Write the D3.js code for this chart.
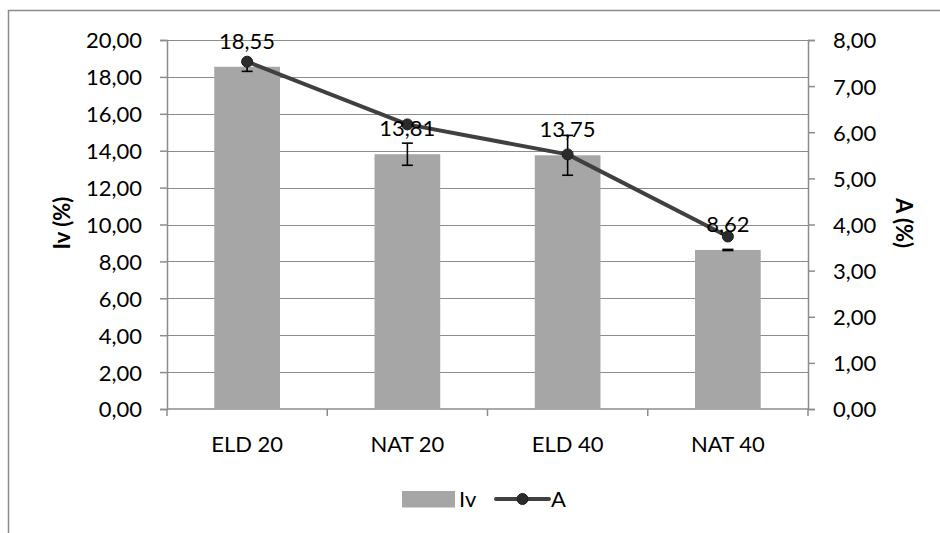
<!DOCTYPE html>
<html>
<head>
<meta charset="utf-8">
<script src="https://cdn.jsdelivr.net/npm/d3@7/dist/d3.min.js"></script>
<style>
  html, body { margin: 0; padding: 0; background: #ffffff; }
  svg { display: block; }
  text { font-family: Lato, "Open Sans", sans-serif; fill: #000; }
</style>
</head>
<body>
<script>
// Sample categories and measured series
const categories = ["ELD 20", "NAT 20", "ELD 40", "NAT 40"];
const ivValues = [18.55, 13.81, 13.75, 8.62];   // bars, left axis
const ivErrors = [0.25, 0.60, 1.08, 0.03];      // ± error on bars
const aValues = [7.53, 6.17, 5.52, 3.74];       // line, right axis
const leftTicks = [0, 2, 4, 6, 8, 10, 12, 14, 16, 18, 20];
const rightTicks = [0, 1, 2, 3, 4, 5, 6, 7, 8];
const seriesNames = ["Iv", "A"];

const W = 940, H = 533;
const plot = { left: 167, right: 808, top: 40, bottom: 409 };

const comma = d3.formatLocale({ decimal: ",", thousands: ".", grouping: [3], currency: ["", ""] });
const fmt2 = comma.format(".2f");

const svg = d3.select("body").append("svg").attr("width", W).attr("height", H);

// Chart frame
svg.append("rect")
  .attr("x", 8.5).attr("y", 10.5)
  .attr("width", 1000).attr("height", 600)
  .attr("fill", "none").attr("stroke", "#8c8c8c").attr("stroke-width", 1.5);

const x = d3.scaleBand().domain(categories)
  .range([plot.left, plot.right]).paddingInner(0.59).paddingOuter(0.295);
const xTicks = d3.scaleBand().domain(categories).range([plot.left, plot.right]);
const yL = d3.scaleLinear().domain([0, 20]).range([plot.bottom, plot.top]);
const yR = d3.scaleLinear().domain([0, 8]).range([plot.bottom, plot.top]);

const gridColor = "#8c8c8c";

// Horizontal gridlines
svg.append("g").selectAll("line").data(leftTicks.slice(1)).join("line")
  .attr("x1", plot.left).attr("x2", plot.right)
  .attr("y1", d => Math.round(yL(d)) + 0.5).attr("y2", d => Math.round(yL(d)) + 0.5)
  .attr("stroke", gridColor).attr("stroke-width", 1.2);

// Left axis
const gLeft = svg.append("g").attr("transform", `translate(${plot.left},0)`)
  .call(d3.axisLeft(yL).tickValues(leftTicks).tickFormat(fmt2).tickSize(7).tickPadding(18));
// Right axis
const gRight = svg.append("g").attr("transform", `translate(${plot.right},0)`)
  .call(d3.axisRight(yR).tickValues(rightTicks).tickFormat(fmt2).tickSize(7).tickPadding(18));
[gLeft, gRight].forEach(g => {
  g.select(".domain").attr("stroke", gridColor).attr("stroke-width", 1.5);
  g.selectAll(".tick line").attr("stroke", gridColor).attr("stroke-width", 1.5);
  g.selectAll(".tick text").attr("font-size", 22).attr("font-family", "Lato, sans-serif")
    .attr("fill", "#000").attr("dy", "0.36em");
});

// Bottom axis with ticks between categories
const gBottom = svg.append("g").attr("transform", `translate(0,${plot.bottom})`);
gBottom.append("line").attr("x1", plot.left).attr("x2", plot.right)
  .attr("stroke", gridColor).attr("stroke-width", 1.5);
const boundaries = categories.map(c => xTicks(c)).concat([plot.right]);
gBottom.selectAll("line.tk").data(boundaries).join("line").attr("class", "tk")
  .attr("x1", d => d).attr("x2", d => d).attr("y1", 0).attr("y2", 7)
  .attr("stroke", gridColor).attr("stroke-width", 1.5);
gBottom.selectAll("text").data(categories).join("text")
  .attr("x", d => xTicks(d) + xTicks.bandwidth() / 2)
  .attr("y", 43)
  .attr("text-anchor", "middle").attr("font-size", 22)
  .text(d => d);

// Bars
svg.append("g").selectAll("rect").data(categories).join("rect")
  .attr("x", d => x(d)).attr("width", x.bandwidth())
  .attr("y", (d, i) => yL(ivValues[i]))
  .attr("height", (d, i) => plot.bottom - yL(ivValues[i]))
  .attr("fill", "#a6a6a6");

// Error bars
const eb = svg.append("g").attr("stroke", "#000").attr("stroke-width", 1.6);
categories.forEach((c, i) => {
  const cx = x(c) + x.bandwidth() / 2;
  const y1 = yL(ivValues[i] + ivErrors[i]), y2 = yL(ivValues[i] - ivErrors[i]);
  eb.append("line").attr("x1", cx).attr("x2", cx).attr("y1", y1).attr("y2", y2);
  eb.append("line").attr("x1", cx - 5.5).attr("x2", cx + 5.5).attr("y1", y1).attr("y2", y1);
  eb.append("line").attr("x1", cx - 5.5).attr("x2", cx + 5.5).attr("y1", y2).attr("y2", y2);
});

// Line series on right axis
const line = d3.line().x((d, i) => x(categories[i]) + x.bandwidth() / 2).y(d => yR(d));
svg.append("path").datum(aValues).attr("d", line)
  .attr("fill", "none").attr("stroke", "#404040").attr("stroke-width", 4)
  .attr("stroke-linejoin", "round");
svg.append("g").selectAll("circle").data(aValues).join("circle")
  .attr("cx", (d, i) => x(categories[i]) + x.bandwidth() / 2)
  .attr("cy", d => yR(d)).attr("r", 5.5)
  .attr("fill", "#2b2b2b").attr("stroke", "#1e1e1e").attr("stroke-width", 1);

// Bar value labels
svg.append("g").selectAll("text").data(ivValues).join("text")
  .attr("x", (d, i) => x(categories[i]) + x.bandwidth() / 2)
  .attr("y", d => yL(d) - 18)
  .attr("text-anchor", "middle").attr("font-size", 22)
  .text(d => fmt2(d));

// Axis titles
svg.append("text")
  .attr("transform", `translate(70,223) rotate(-90)`)
  .attr("text-anchor", "middle").attr("font-size", 22).attr("font-weight", "bold")
  .text("Iv (%)");
svg.append("text")
  .attr("transform", `translate(896,223) rotate(90)`)
  .attr("text-anchor", "middle").attr("font-size", 22).attr("font-weight", "bold")
  .text("A (%)");

// Legend
const lg = svg.append("g");
lg.append("rect").attr("x", 402).attr("y", 491).attr("width", 53).attr("height", 16.5)
  .attr("fill", "#a6a6a6");
lg.append("text").attr("x", 459).attr("y", 507).attr("font-size", 22).text(seriesNames[0]);
lg.append("line").attr("x1", 496).attr("x2", 549).attr("y1", 499).attr("y2", 499)
  .attr("stroke", "#404040").attr("stroke-width", 4).attr("stroke-linecap", "round");
lg.append("circle").attr("cx", 522.5).attr("cy", 499).attr("r", 5.5)
  .attr("fill", "#2b2b2b").attr("stroke", "#1e1e1e");
lg.append("text").attr("x", 551).attr("y", 507).attr("font-size", 22).text(seriesNames[1]);
</script>
</body>
</html>
